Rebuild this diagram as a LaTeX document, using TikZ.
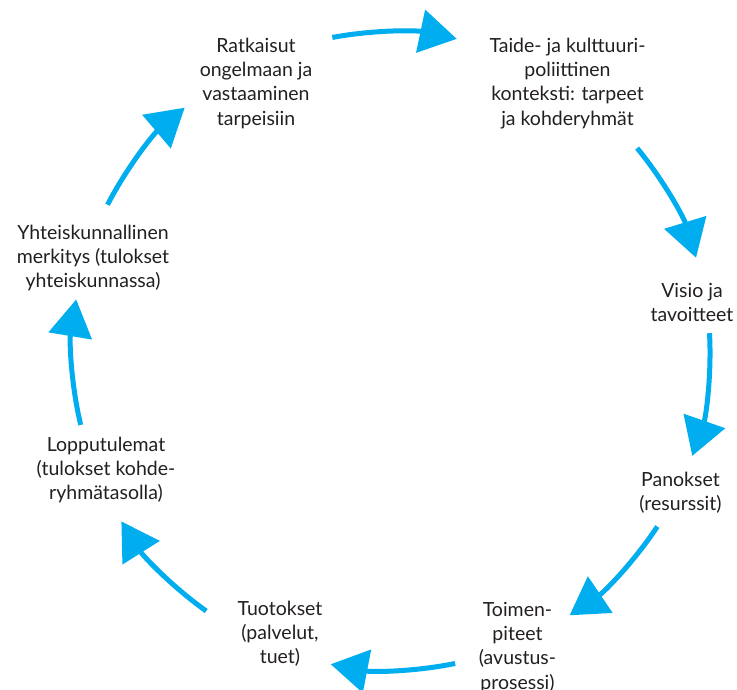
\documentclass[tikz,border=0pt]{standalone}
\usepackage{fontspec}
\setmainfont{Lato}
\usetikzlibrary{arrows.meta,calc}
\definecolor{flowblue}{HTML}{00AEEF}
\definecolor{txt}{HTML}{231F20}
\begin{document}
\begin{tikzpicture}[x=1pt,y=1pt,
 lbl/.style={anchor=north, inner sep=0pt, align=center, text=txt, font=\fontsize{19.5}{24.3}\selectfont},
 flow/.style={draw=flowblue, line width=5pt, -{Triangle[length=37pt,width=43pt]}}]
\useasboundingbox (0,0) rectangle (737,689);
\coordinate (C) at (391,338);
% labels
\node[lbl] (ratk) at (256,654.0) {\strut Ratkaisut\\ongelmaan ja\\vastaaminen\\tarpeisiin};
\node[lbl] (taide) at (567.5,654.0) {\strut Taide- ja kulttuuri-\\poliittinen\\konteksti: tarpeet\\ja kohderyhmät};
\node[lbl] (visio) at (692,409.0) {\strut Visio ja\\tavoitteet};
\node[lbl] (panok) at (680.5,220.0) {\strut Panokset\\(resurssit)};
\node[lbl] (toim) at (517.5,90.0) {\strut Toimen-\\piteet\\(avustus-\\prosessi)};
\node[lbl] (tuot) at (280,91.0) {\strut Tuotokset\\(palvelut,\\tuet)};
\node[lbl] (lopp) at (106,255.0) {\strut Lopputulemat\\(tulokset kohde-\\ryhmätasolla)};
\node[lbl] (yht) at (93,467.0) {\strut Yhteiskunnallinen\\merkitys (tulokset\\yhteiskunnassa)};
% arrow start points on the circle
\coordinate (s1) at ($(C)+(100.6:319)$);
\coordinate (s2) at ($(C)+(39.5:319)$);
\coordinate (s3) at ($(C)+(3.2:319)$);
\coordinate (s4) at ($(C)+(-33.4:319)$);
\coordinate (s5) at ($(C)+(-78.4:319)$);
\coordinate (s6) at ($(C)+(-125.4:319)$);
\coordinate (s7) at ($(C)+(193.4:319)$);
\coordinate (s8) at ($(C)+(152.7:319)$);
% arrows
\draw[flow] (s1) arc[start angle=100.6, end angle=78.1, radius=319];
\draw[flow] (s2) arc[start angle=39.5, end angle=17.0, radius=319];
\draw[flow] (s3) arc[start angle=3.2, end angle=-19.2, radius=319];
\draw[flow] (s4) arc[start angle=-33.4, end angle=-55.95, radius=319];
\draw[flow] (s5) arc[start angle=-78.4, end angle=-100.9, radius=319];
\draw[flow] (s6) arc[start angle=-125.4, end angle=-147.7, radius=319];
\draw[flow] (s7) arc[start angle=193.4, end angle=170.7, radius=319];
\draw[flow] (s8) arc[start angle=152.7, end angle=130.3, radius=319];
\end{tikzpicture}
\end{document}
